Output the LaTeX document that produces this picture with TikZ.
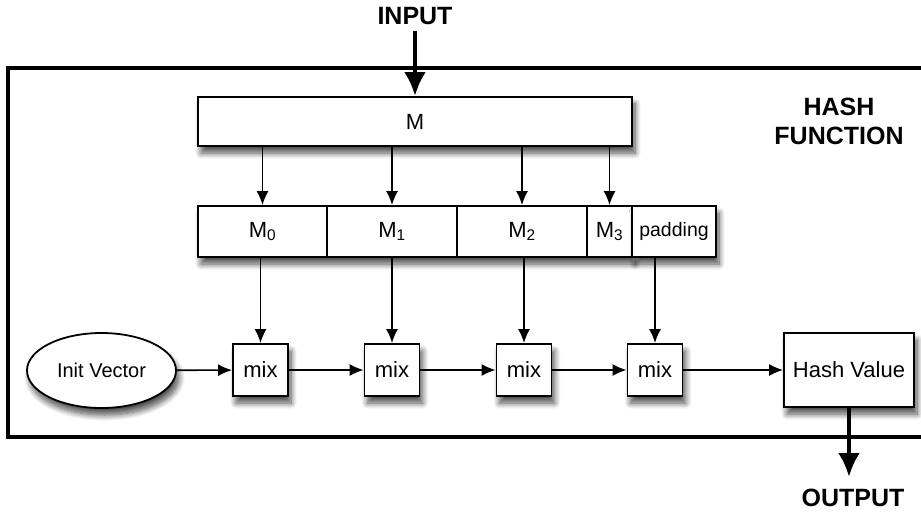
\documentclass[tikz,border=0pt]{standalone}
\usepackage{fontspec}
\setmainfont{Liberation Sans}
\usetikzlibrary{arrows.meta,shapes.geometric,shadows.blur}
\tikzset{
  sh/.style={blur shadow={shadow xshift=3pt,shadow yshift=-7pt,shadow blur steps=10,shadow opacity=70,shadow blur radius=6pt}},
  box/.style={draw,line width=1.8pt,fill=white,inner sep=0pt,font=\fontsize{22}{24}\selectfont},
  rowbox/.style={box,minimum height=51pt},
  mixbox/.style={box,sh,minimum width=55pt,minimum height=52pt},
  thin/.style={line width=1.6pt,-{Latex[length=14pt,width=12pt]}},
  thick/.style={line width=4.5pt,-{Latex[length=24pt,width=22pt]}},
  lbl/.style={font=\fontsize{25}{29}\selectfont\bfseries,align=center,inner sep=0pt}
}
\begin{document}
\begin{tikzpicture}[x=1pt,y=-1pt]
\useasboundingbox (0,0) rectangle (921,513);
\clip (0,0) rectangle (921,513);
\draw[line width=3.2pt] (940,68) -- (8,68) -- (8,437) -- (940,437);
\node[lbl] (input) at (415,16) {INPUT};
\node[lbl] (hf) at (839,121) {HASH\\FUNCTION};
\node[box,sh,minimum width=434pt,minimum height=49pt] (M) at (415,121.5) {M};
\node[rowbox,sh,minimum width=434pt] (rowbg) at (415,231.5) {};
\node[rowbox,minimum width=129pt] (M0) at (262.5,231.5) {M\textsubscript{0}};
\node[rowbox,minimum width=130pt] (M1) at (392,231.5) {M\textsubscript{1}};
\node[rowbox,minimum width=130pt] (M2) at (522,231.5) {M\textsubscript{2}};
\node[rowbox,minimum width=45pt] (M3) at (609.5,231.5) {M\textsubscript{3}};
\node[rowbox,sh,minimum width=84pt,font=\fontsize{19.5}{21}\selectfont] (pad) at (674,231.5) {padding};
\node[box,sh,ellipse,minimum width=149pt,minimum height=75pt,font=\fontsize{20}{22}\selectfont] (iv) at (101.5,370.5) {Init Vector};
\node[mixbox] (x1) at (260.5,370) {mix};
\node[mixbox] (x2) at (392,370) {mix};
\node[mixbox] (x3) at (524,370) {mix};
\node[mixbox] (x4) at (655,370) {mix};
\node[box,sh,minimum width=130pt,minimum height=74pt] (hv) at (849,370) {Hash Value};
\node[lbl] (output) at (853,498) {OUTPUT};
\coordinate (outend) at (849,477);
\draw[thick] (input.south) ++(0,6) -- (M.north);
\draw[thin] (M.south -| M0.north) -- (M0.north);
\draw[thin] (M.south -| M1.north) -- (M1.north);
\draw[thin] (M.south -| M2.north) -- (M2.north);
\draw[thin] (M.south -| M3.north) -- (M3.north);
\draw[thin] (M0.south -| x1.north) -- (x1.north);
\draw[thin] (M1.south -| x2.north) -- (x2.north);
\draw[thin] (M2.south -| x3.north) -- (x3.north);
\draw[thin] (pad.south -| x4.north) -- (x4.north);
\draw[thin] (iv) -- (x1);
\draw[thin] (x1) -- (x2);
\draw[thin] (x2) -- (x3);
\draw[thin] (x3) -- (x4);
\draw[thin] (x4) -- (hv);
\draw[thick] (hv.south) -- (outend);
\end{tikzpicture}
\end{document}
